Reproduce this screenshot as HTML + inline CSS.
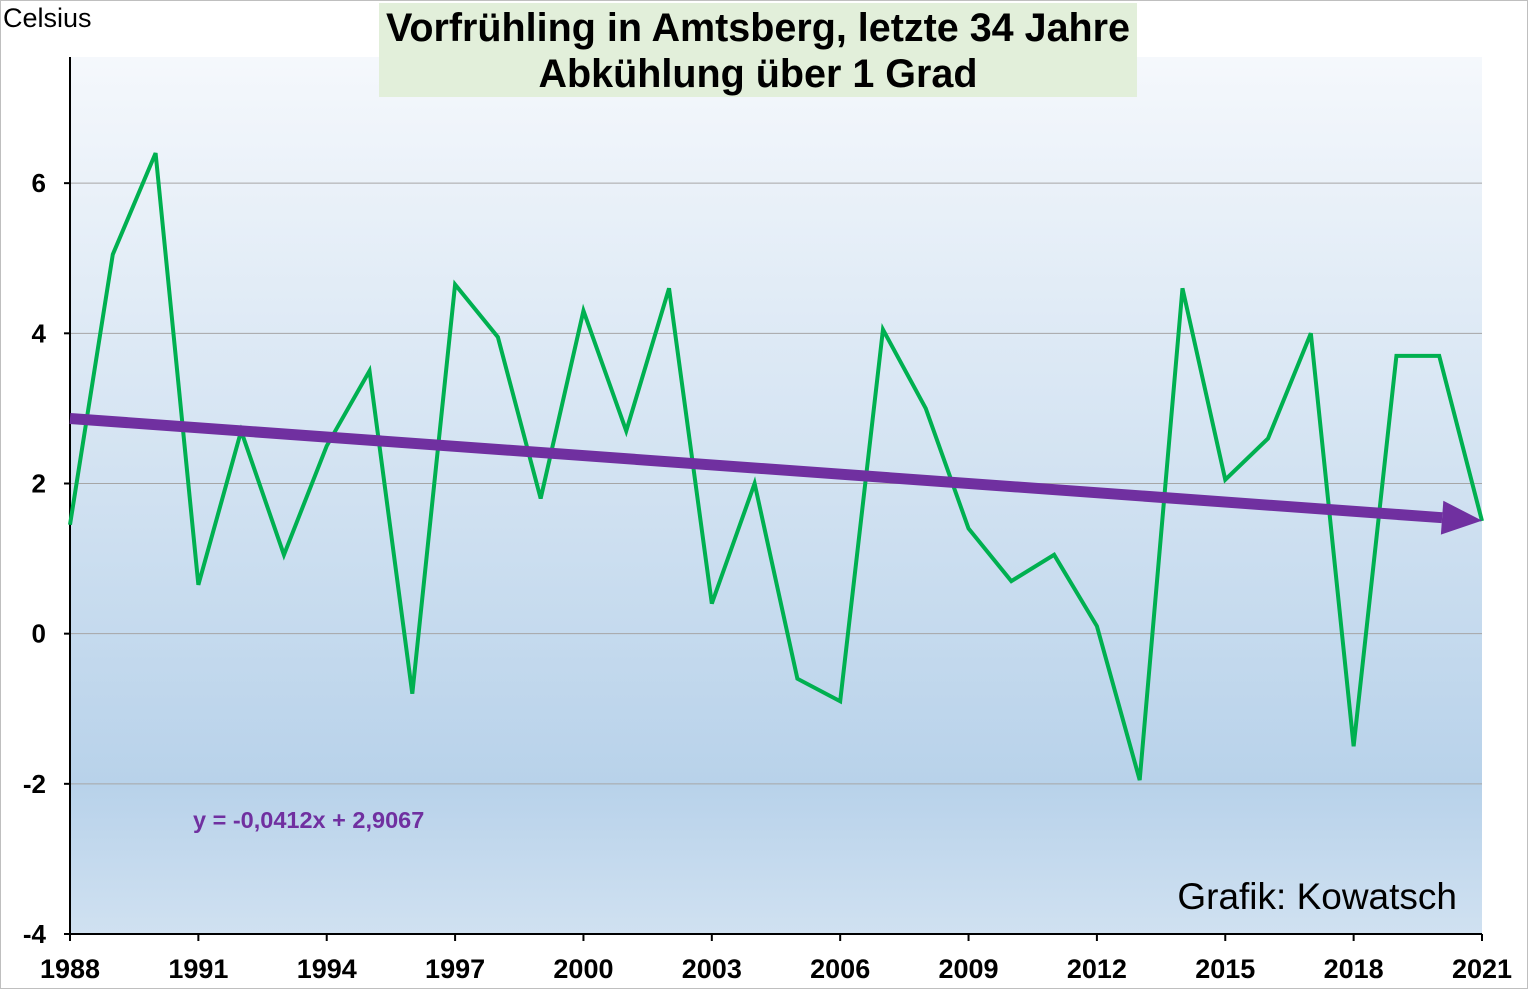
<!DOCTYPE html>
<html><head><meta charset="utf-8"><style>
body{margin:0;background:#fff;}
svg{display:block;font-family:"Liberation Sans",Arial,sans-serif;}
</style></head><body>
<svg id="chart" width="1528" height="989" viewBox="0 0 1528 989">
<defs>
<linearGradient id="bg" x1="0" y1="0" x2="0" y2="1">
<stop offset="0" stop-color="#f5f8fc"/>
<stop offset="0.83" stop-color="#b8d2ea"/>
<stop offset="1" stop-color="#d0e1f1"/>
</linearGradient>
</defs>
<rect x="0.5" y="0.5" width="1527" height="988" fill="#fff" stroke="#bfbfbf"/>
<rect x="70" y="57" width="1412" height="877" fill="url(#bg)"/>
<g id="grid"></g>
<g id="axes"></g>
<polyline id="series" fill="none" stroke="#00b050" stroke-width="4" stroke-linejoin="miter"/>
<g id="trend"></g>
<rect x="379" y="3" width="758" height="94" fill="#e2efda"/>
<text x="758" y="41" text-anchor="middle" font-size="39.5" font-weight="bold">Vorfrühling in Amtsberg, letzte 34 Jahre</text>
<text x="758" y="87" text-anchor="middle" font-size="39.5" font-weight="bold">Abkühlung  über 1 Grad</text>
<text x="3" y="27" font-size="27">Celsius</text>
<text x="193" y="828" font-size="23.5" font-weight="bold" fill="#7030a0">y = -0,0412x + 2,9067</text>
<text x="1457" y="909" text-anchor="end" font-size="37">Grafik: Kowatsch</text>
</svg>
<script>
const years=[1988,1989,1990,1991,1992,1993,1994,1995,1996,1997,1998,1999,2000,2001,2002,2003,2004,2005,2006,2007,2008,2009,2010,2011,2012,2013,2014,2015,2016,2017,2018,2019,2020,2021];
const temps=[1.45,5.05,6.4,0.65,2.7,1.05,2.5,3.5,-0.8,4.65,3.95,1.8,4.3,2.7,4.6,0.4,2.0,-0.6,-0.9,4.05,3.0,1.4,0.7,1.05,0.1,-1.95,4.6,2.05,2.6,4.0,-1.5,3.7,3.7,1.5];
const yTicks=[-4,-2,0,2,4,6];
const xTickYears=[1988,1991,1994,1997,2000,2003,2006,2009,2012,2015,2018,2021];
const trendSlope=-0.0412, trendIntercept=2.9067;
const NS="http://www.w3.org/2000/svg";
const X0=70,X1=1482,Y0=934,Y1=57,ymin=-4,ymax=7.68;
const xs=y=>X0+(y-1988)/(2021-1988)*(X1-X0);
const ys=v=>Y0-(v-ymin)/(ymax-ymin)*(Y0-Y1);
function mk(t,a,p){const e=document.createElementNS(NS,t);for(const k in a)e.setAttribute(k,a[k]);p.appendChild(e);return e;}
const grid=document.getElementById('grid'),axes=document.getElementById('axes');
yTicks.forEach(v=>{
 if(v>ymin){const l=mk('line',{x1:X0,x2:X1,y1:ys(v),y2:ys(v),stroke:'#a6a6a6','stroke-width':1},grid);
 
 }
 const tk=mk('line',{x1:X0-6,x2:X0,y1:ys(v),y2:ys(v),stroke:'#000','stroke-width':2},axes);
 
 
 const t=mk('text',{x:46,y:ys(v)+9,'text-anchor':'end','font-size':26,'font-weight':'bold'},axes);t.textContent=v;
 
 
});
const ya=mk('line',{x1:X0,x2:X0,y1:Y1,y2:Y0,stroke:'#000','stroke-width':2},axes);


const xa=mk('line',{x1:X0,x2:X1,y1:Y0,y2:Y0,stroke:'#000','stroke-width':2},axes);


xTickYears.forEach(y=>{
 const tk=mk('line',{x1:xs(y),x2:xs(y),y1:Y0,y2:Y0+7,stroke:'#000','stroke-width':2},axes);
 
 
 const t=mk('text',{x:xs(y),y:978,'text-anchor':'middle','font-size':27,'font-weight':'bold'},axes);t.textContent=y;
 
 
});
document.getElementById('series').setAttribute('points',years.map((y,i)=>xs(y)+','+ys(temps[i])).join(' '));
const tr=document.getElementById('trend');
const ta=trendIntercept+trendSlope*1, tb=trendIntercept+trendSlope*years.length;
const ax=xs(years[0]),ay=ys(ta),bx=xs(years[years.length-1]),by=ys(tb);
const ang=Math.atan2(by-ay,bx-ax),hl=40;
const ex=bx-hl*Math.cos(ang),ey=by-hl*Math.sin(ang);
const ln=mk('line',{x1:ax,y1:ay,x2:ex,y2:ey,stroke:'#7030a0','stroke-width':11},tr);


const px=-Math.sin(ang),py=Math.cos(ang),w=17;
const hd=mk('polygon',{points:`${bx},${by} ${ex+px*w},${ey+py*w} ${ex-px*w},${ey-py*w}`,fill:'#7030a0'},tr);


</script>
</body></html>
